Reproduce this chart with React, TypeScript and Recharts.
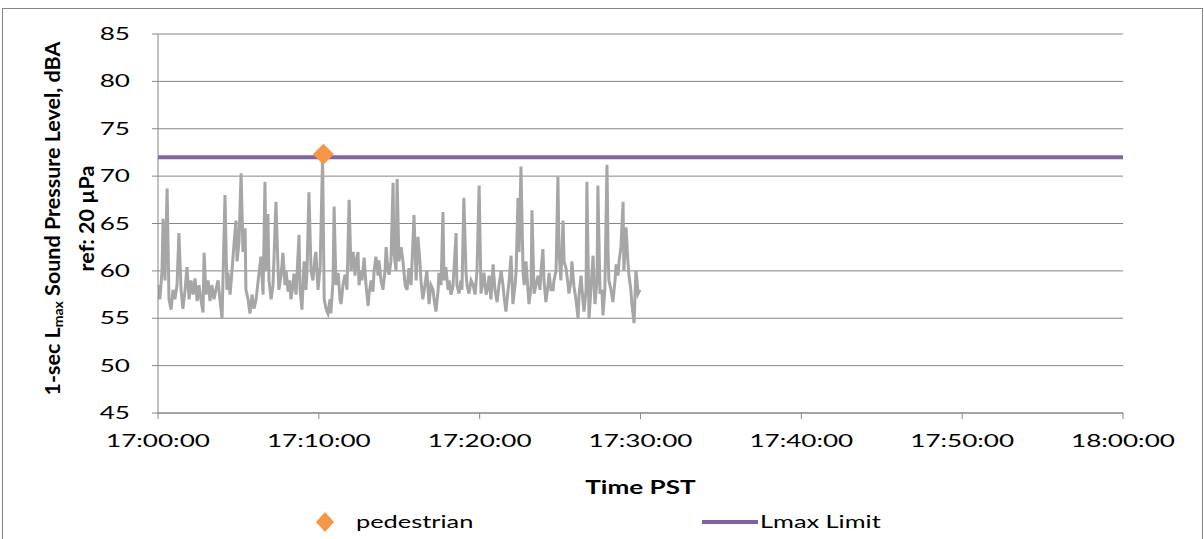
import React from 'react';
import { ComposedChart, Line, Scatter, XAxis, YAxis, CartesianGrid, Label } from 'recharts';

// 1-sec Lmax readings: [seconds after 17:00:00, dBA]
const LMAX_READINGS: [number, number][] = [
  [0, 58.5], [7, 57], [15, 60], [19, 65.5], [26, 59], [34, 68.7], [41, 57], [49, 55.9], [56, 58], [63, 57],
  [71, 58.5], [78, 64], [86, 58], [93, 56], [101, 58], [108, 60.4], [116, 57], [123, 59], [131, 57.5], [138, 59.2],
  [146, 56.8], [153, 58.5], [160, 57], [168, 55.6], [172, 61.9], [179, 57.5], [187, 59], [194, 56.8], [201, 58.5], [209, 57],
  [216, 58], [224, 59], [231, 57], [239, 55], [250, 68], [257, 58], [261, 59.8], [269, 57.5], [276, 60], [284, 63],
  [291, 65.3], [295, 61], [302, 63], [310, 70.3], [317, 62], [325, 64.5], [328, 58], [336, 57], [343, 55.5], [351, 57.5],
  [358, 56], [366, 57], [373, 58.8], [384, 61.5], [392, 57.5], [399, 69.4], [403, 60], [410, 66], [414, 59], [422, 57],
  [429, 58.5], [433, 61.5], [440, 67.3], [448, 60], [451, 58], [459, 59.5], [466, 61.9], [474, 58.5], [478, 60], [485, 57.8],
  [492, 59], [496, 57], [504, 58.5], [507, 59.7], [515, 57.5], [526, 63.8], [530, 58], [537, 55.9], [545, 61], [552, 58],
  [556, 60], [563, 68.3], [571, 60], [578, 59], [586, 61.5], [589, 62], [597, 58], [605, 60.5], [614, 72], [620, 57],
  [627, 56], [634, 55.5], [642, 57], [645, 55.5], [653, 59], [657, 66.8], [664, 58.5], [672, 59.8], [679, 57], [683, 56.5],
  [690, 58.5], [698, 59.6], [705, 58], [713, 67.5], [720, 60], [728, 62], [735, 59.5], [739, 61], [746, 62], [750, 58.5],
  [757, 60], [761, 59], [769, 61.4], [776, 58.5], [784, 56.3], [787, 57.5], [795, 59], [802, 57.8], [806, 60], [813, 61.5],
  [821, 59.5], [824, 61.1], [832, 59], [839, 58], [847, 60], [851, 62.5], [858, 60], [862, 59.6], [869, 61], [877, 69.3],
  [880, 62], [888, 60], [892, 69.7], [899, 61], [907, 62.5], [914, 61], [922, 58.5], [929, 58], [936, 60.3], [944, 58.5],
  [948, 61], [955, 65.9], [963, 59], [970, 63.6], [977, 61], [981, 59], [988, 57], [996, 58.5], [1003, 60], [1011, 56.5],
  [1018, 58.5], [1026, 58], [1030, 57], [1037, 55.7], [1045, 58], [1048, 59.8], [1056, 58.5], [1063, 66.2], [1067, 59], [1074, 60.4],
  [1082, 58], [1086, 59], [1093, 57.5], [1100, 58.3], [1104, 60], [1112, 64], [1115, 58.5], [1123, 57.6], [1130, 59], [1134, 58],
  [1141, 67.7], [1149, 59.8], [1153, 58.5], [1160, 57.6], [1168, 59], [1175, 58.6], [1183, 57.5], [1190, 60], [1198, 69], [1205, 57.6],
  [1213, 59], [1216, 59.8], [1224, 57.5], [1231, 58.3], [1235, 59.5], [1242, 57], [1250, 60.7], [1257, 58], [1265, 56.7], [1272, 58.5],
  [1280, 60], [1287, 58.5], [1291, 57.3], [1298, 55.7], [1306, 58], [1310, 59], [1317, 61.6], [1324, 56.5], [1332, 58.5], [1336, 60],
  [1343, 67.7], [1347, 62], [1354, 71], [1362, 59.8], [1366, 58.5], [1373, 61], [1380, 58], [1384, 56.5], [1392, 58.5], [1395, 66.4],
  [1403, 57.6], [1410, 58.5], [1418, 59.5], [1425, 58], [1429, 60], [1436, 62.3], [1440, 59], [1447, 56.7], [1455, 58.5], [1459, 59.8],
  [1466, 58], [1474, 58], [1477, 59], [1485, 60], [1492, 69.9], [1496, 62], [1503, 59], [1511, 65.3], [1515, 61], [1522, 60.3],
  [1530, 58.5], [1533, 57.6], [1541, 59], [1544, 61], [1552, 58.3], [1559, 57], [1567, 55], [1571, 57.5], [1578, 59.5], [1585, 57],
  [1589, 55.7], [1597, 58], [1600, 69.4], [1608, 55], [1615, 58], [1623, 61.6], [1630, 56.5], [1638, 59], [1641, 69], [1649, 57.6],
  [1656, 58], [1660, 55.3], [1667, 58], [1675, 71.2], [1679, 62], [1682, 59], [1690, 58], [1697, 56.7], [1705, 59], [1709, 60.7],
  [1716, 59.5], [1720, 61], [1727, 62.5], [1735, 67.3], [1738, 60], [1746, 64.6], [1753, 61], [1757, 59.5], [1764, 58], [1768, 56.5],
  [1776, 54.5], [1783, 60], [1787, 59], [1791, 57.6], [1798, 58],
];

// identified event
const PEDESTRIAN_T = [617];
const PEDESTRIAN_DBA = [72.3];

// limit line spans the whole hour
const LIMIT_T = [0, 3600];
const LIMIT_DBA = [72, 72];

const X_TICKS = [0, 600, 1200, 1800, 2400, 3000, 3600];
const Y_TICKS = [45, 50, 55, 60, 65, 70, 75, 80, 85];

const lmaxData = LMAX_READINGS.map(([t, v]) => ({ t, v }));
const pedestrianData = PEDESTRIAN_T.map((t, i) => ({ t, v: PEDESTRIAN_DBA[i] }));
const limitData = LIMIT_T.map((t, i) => ({ t, v: LIMIT_DBA[i] }));

const FONT = 'Lato, "Open Sans", sans-serif';
const STRETCH = 1.45;
const AXIS_GRAY = '#868686';

const pad = (n: number) => String(n).padStart(2, '0');
const fmtTime = (s: number) => `${17 + Math.floor(s / 3600)}:${pad(Math.floor((s % 3600) / 60))}:${pad(s % 60)}`;

const XTick = (props: any) => {
  const { x, y, payload } = props;
  return (
    <g transform={`translate(${x},${y + 26}) scale(${STRETCH},1)`}>
      <text textAnchor="middle" fontFamily={FONT} fontSize={18} fill="#000">{fmtTime(payload.value)}</text>
    </g>
  );
};

const YTick = (props: any) => {
  const { x, y, payload } = props;
  return (
    <g transform={`translate(${x},${y + 6}) scale(${STRETCH},1)`}>
      <text textAnchor="end" fontFamily={FONT} fontSize={18} fill="#000">{payload.value}</text>
    </g>
  );
};

const YTitle = (props: any) => {
  const vb = props.viewBox;
  const cy = vb.y + vb.height / 2 - 5;
  const x1 = vb.x + 49;
  const x2 = vb.x + 83;
  return (
    <g fontFamily={FONT} fontSize={21.5} fontWeight="bold" fill="#000">
      <text x={x1} y={cy} textAnchor="middle" dominantBaseline="central" transform={`rotate(-90, ${x1}, ${cy})`}>
        1-sec L<tspan fontSize={14} dy={5}>max</tspan><tspan dy={-5}> Sound Pressure Level, dBA</tspan>
      </text>
      <text x={x2} y={cy} textAnchor="middle" dominantBaseline="central" transform={`rotate(-90, ${x2}, ${cy})`}>
        ref: 20 µPa
      </text>
    </g>
  );
};

const XTitle = (props: any) => {
  const vb = props.viewBox;
  return (
    <g transform={`translate(${vb.x + vb.width / 2},485) scale(${STRETCH},1)`}>
      <text textAnchor="middle" fontFamily={FONT} fontSize={18} fontWeight="bold" fill="#000">Time PST</text>
    </g>
  );
};

const Diamond = (props: any) => {
  const { cx, cy } = props;
  const r = 10.5;
  return <polygon points={`${cx},${cy - r} ${cx + r},${cy} ${cx},${cy + r} ${cx - r},${cy}`} fill="#F79646" />;
};

const LegendBar = () => (
  <svg width={1199} height={40} style={{ position: 'absolute', left: 0, top: 493 }}>
    <polygon points="322,10 331,20 322,30 313,20" fill="#F79646" />
    <g transform={`translate(353,26) scale(${STRETCH},1)`}>
      <text fontFamily={FONT} fontSize={17.5} fill="#000">pedestrian</text>
    </g>
    <line x1={699} x2={755} y1={20} y2={20} stroke="#8064A2" strokeWidth={4} />
    <g transform={`translate(757,26) scale(${STRETCH},1)`}>
      <text fontFamily={FONT} fontSize={17.5} fill="#000">Lmax Limit</text>
    </g>
  </svg>
);

export default function App() {
  return (
    <div
      style={{
        position: 'absolute',
        left: 2,
        top: 8,
        width: 1199,
        height: 545,
        border: `1px solid ${AXIS_GRAY}`,
        background: '#fff',
      }}
    >
      <ComposedChart width={1199} height={540} margin={{ top: 25, right: 79, left: 0, bottom: 96 }}>
        <CartesianGrid horizontal vertical={false} stroke={AXIS_GRAY} strokeWidth={1} />
        <XAxis
          type="number"
          dataKey="t"
          domain={[0, 3600]}
          ticks={X_TICKS}
          interval={0}
          height={40}
          stroke={AXIS_GRAY}
          tickSize={6}
          tick={<XTick />}
          allowDataOverflow
        >
          <Label content={<XTitle />} />
        </XAxis>
        <YAxis
          type="number"
          domain={[45, 85]}
          ticks={Y_TICKS}
          interval={0}
          width={155}
          stroke={AXIS_GRAY}
          tickSize={6}
          tickMargin={22}
          tick={<YTick />}
          allowDataOverflow
        >
          <Label content={<YTitle />} />
        </YAxis>
        <Line
          data={lmaxData}
          dataKey="v"
          type="linear"
          stroke="#A6A6A6"
          strokeWidth={3}
          dot={false}
          isAnimationActive={false}
        />
        <Line
          data={limitData}
          dataKey="v"
          name="Lmax Limit"
          type="linear"
          stroke="#8064A2"
          strokeWidth={4}
          dot={false}
          isAnimationActive={false}
        />
        <Scatter
          data={pedestrianData}
          dataKey="v"
          name="pedestrian"
          shape={<Diamond />}
          isAnimationActive={false}
        />
      </ComposedChart>
      <LegendBar />
    </div>
  );
}
